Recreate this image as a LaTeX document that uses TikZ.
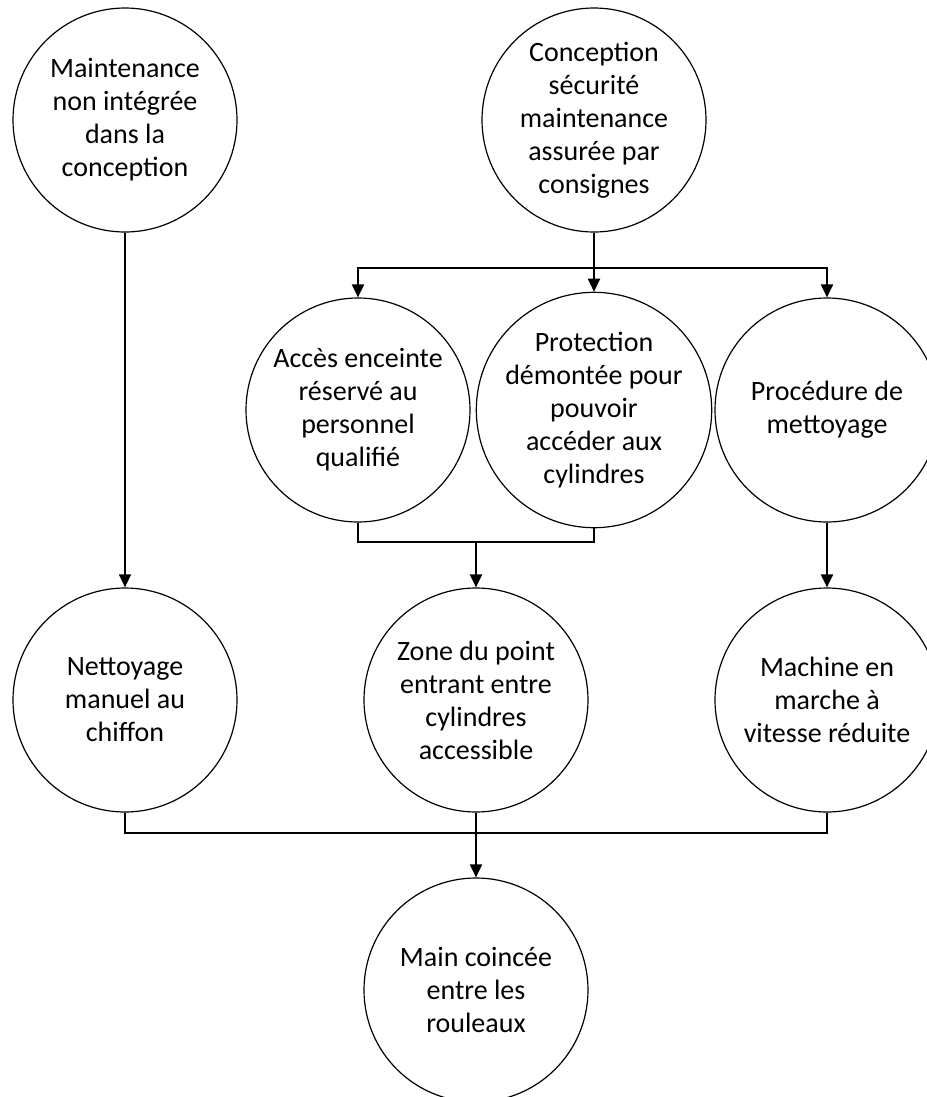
\documentclass[tikz,border=0pt]{standalone}
\usepackage{fontspec}
\setmainfont{Carlito}
\usetikzlibrary{arrows.meta}

\tikzset{
  cause/.style={draw, circle, line width=0.9pt, minimum size=168pt, inner sep=0pt,
    align=center, font=\fontsize{21}{24.75}\selectfont},
  link/.style={line width=1.5pt},
  fleche/.style={-{Triangle[length=9.75pt,width=9pt]}}
}

\begin{document}
\begin{tikzpicture}[x=0.75pt,y=0.75pt,yscale=-1,xscale=1]
\useasboundingbox (0,0) rectangle (927,1097);

% Ligne 1
\node[cause] (maint) at (125,120) {Maintenance\\non intégrée\\dans la\\conception};
\node[cause] (consig) at (594,120) {Conception\\sécurité\\maintenance\\assurée par\\consignes};

% Ligne 2
\node[cause] (acces) at (358,410) {Accès enceinte\\réservé au\\personnel\\qualifié};
\node[cause] (protec) at (594,410) {Protection\\démontée pour\\pouvoir\\accéder aux\\cylindres};
\node[cause] (proced) at (827,410) {Procédure de\\mettoyage};

% Ligne 3
\node[cause] (nettoy) at (125,700) {Nettoyage\\manuel au\\chiffon};
\node[cause] (zone) at (476,700) {Zone du point\\entrant entre\\cylindres\\accessible};
\node[cause] (machine) at (827,700) {Machine en\\marche à\\vitesse réduite};

% Evenement final
\node[cause] (main) at (476,990) {Main coincée\\entre les\\rouleaux};

% Points de jonction
\coordinate (split) at (594,268);
\coordinate (join1) at (476,542);
\coordinate (join2) at (476,833);

% Liaisons
\draw[fleche, line width=0.9pt] (maint) -- (nettoy);
\draw[link] (consig) -- (split);
\draw[link, fleche] (split) -| (acces);
\draw[link, fleche] (split) -- (protec);
\draw[link, fleche] (split) -| (proced);
\draw[link] (acces) |- (join1);
\draw[link] (protec) |- (join1);
\draw[link, fleche] (join1) -- (zone);
\draw[link, fleche] (proced) -- (machine);
\draw[link] (nettoy) |- (join2);
\draw[link] (machine) |- (join2);
\draw[link] (zone) -- (join2);
\draw[link, fleche] (join2) -- (main);

\end{tikzpicture}
\end{document}
